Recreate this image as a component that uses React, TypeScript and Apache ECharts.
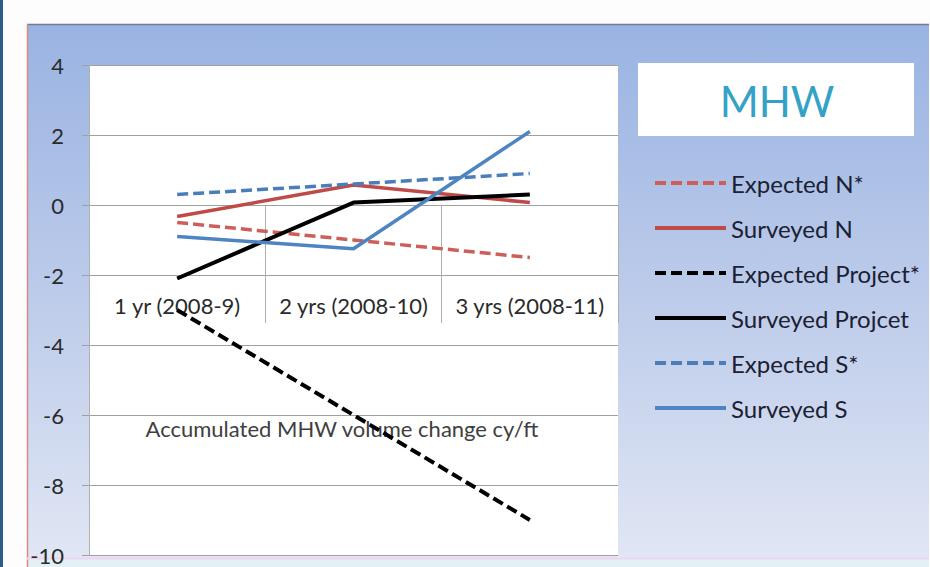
import React, { useEffect, useRef } from "react";
import * as echarts from "echarts";

// Survey periods along the category axis
const periods = ["1 yr (2008-9)", "2 yrs (2008-10)", "3 yrs (2008-11)"];

// Accumulated MHW volume change (cy/ft) per period
const expectedN = [-0.5, -1.0, -1.5];
const surveyedN = [-0.33, 0.57, 0.07];
const expectedProject = [-3, -6, -9];
const surveyedProject = [-2.1, 0.07, 0.3];
const expectedS = [0.3, 0.6, 0.9];
const surveyedS = [-0.9, -1.25, 2.1];

const seriesNames = [
  "Expected N*",
  "Surveyed N",
  "Expected Project*",
  "Surveyed Projcet",
  "Expected S*",
  "Surveyed S",
];

const FONT = "Lato, 'Noto Sans', sans-serif";

// plot rectangle
const PLOT = { left: 89, top: 65, width: 529, height: 490 };
const Y_MIN = -10;
const Y_MAX = 4;

export default function App() {
  const ref = useRef<HTMLDivElement>(null);

  useEffect(() => {
    document.body.style.margin = "0";
    if (!ref.current) return;
    const chart = echarts.init(ref.current, undefined, { renderer: "svg" });

    const dash = [11, 5];
    const mk = (name: string, data: number[], color: string, width: number, dashed: boolean) => ({
      name,
      type: "line",
      data,
      symbol: "none",
      lineStyle: { color, width, type: dashed ? dash : "solid", cap: "butt" },
      itemStyle: { color },
      emphasis: { disabled: true },
    });

    // category axis sits on the zero line of the value axis
    const zeroOffset = (PLOT.height * (0 - Y_MIN)) / (Y_MAX - Y_MIN);

    chart.setOption({
      animation: false,
      textStyle: { fontFamily: FONT },
      graphic: [
        // page and slide frame
        { type: "rect", z: -20, shape: { x: 0, y: 0, width: 930, height: 567 }, style: { fill: "#fdfdfd" } },
        { type: "rect", z: -19, shape: { x: 0, y: 0, width: 3, height: 567 }, style: { fill: "#2d5b8c" } },
        {
          type: "rect",
          z: -19,
          shape: { x: 27, y: 24, width: 902, height: 534 },
          style: {
            fill: new echarts.graphic.LinearGradient(0, 0, 0, 1, [
              { offset: 0, color: "#99b3e2" },
              { offset: 0.5, color: "#bccbea" },
              { offset: 1, color: "#e0e6f4" },
            ]),
          },
        },
        { type: "rect", z: -18, shape: { x: 27, y: 558, width: 902, height: 9 }, style: { fill: "#e3f0f5" } },
        { type: "line", z: -18, shape: { x1: 27, y1: 24.5, x2: 929, y2: 24.5 }, style: { stroke: "#7e7a96", lineWidth: 1.5 } },
        { type: "line", z: -18, shape: { x1: 27.5, y1: 24, x2: 27.5, y2: 567 }, style: { stroke: "#d98a86", lineWidth: 1.5 } },
        { type: "line", z: -18, shape: { x1: 27, y1: 558.5, x2: 929, y2: 558.5 }, style: { stroke: "#efd4ef", lineWidth: 2 } },
        // plot area
        {
          type: "rect",
          z: -17,
          shape: { x: PLOT.left, y: PLOT.top, width: PLOT.width, height: PLOT.height },
          style: { fill: "#ffffff" },
        },
        // title box
        { type: "rect", z: -17, shape: { x: 638, y: 63, width: 276, height: 73 }, style: { fill: "#ffffff" } },
        {
          type: "text",
          z: 5,
          x: 777,
          y: 101,
          style: {
            text: "MHW",
            fill: "#33a2c6",
            font: `42px ${FONT}`,
            align: "center",
            verticalAlign: "middle",
          },
        },
        {
          type: "text",
          z: 1,
          x: 342,
          y: 428,
          style: {
            text: "Accumulated MHW volume change cy/ft",
            fill: "#404040",
            font: `22px ${FONT}`,
            align: "center",
            verticalAlign: "middle",
          },
        },
      ],
      legend: {
        orient: "vertical",
        left: 653,
        top: 171,
        padding: 0,
        itemWidth: 71,
        itemHeight: 24,
        itemGap: 21,
        itemStyle: { opacity: 0 },
        lineStyle: { width: 4 },
        textStyle: { fontSize: 24, color: "#1b2033", fontFamily: FONT, lineHeight: 24 },
        data: seriesNames,
      },
      grid: {
        left: PLOT.left,
        top: PLOT.top,
        width: PLOT.width,
        height: PLOT.height,
        containLabel: false,
        outerBoundsMode: "none",
      },
      xAxis: {
        type: "category",
        data: periods,
        boundaryGap: true,
        position: "bottom",
        offset: -zeroOffset,
        axisLine: { show: false, onZero: false },
        axisTick: { show: true, interval: 0, length: 118, lineStyle: { color: "#b0b0b0", width: 1 } },
        axisLabel: { interval: 0, fontSize: 22, color: "#2a2a2a", margin: 89, fontFamily: FONT },
        splitLine: { show: false },
      },
      yAxis: {
        type: "value",
        min: Y_MIN,
        max: Y_MAX,
        interval: 2,
        axisLine: { show: true, lineStyle: { color: "#b0b0b0", width: 1 } },
        axisTick: { show: true, length: 7, lineStyle: { color: "#a0a0a0" } },
        axisLabel: { fontSize: 22, color: "#2a2a2a", margin: 25, fontFamily: FONT },
        splitLine: { show: true, lineStyle: { color: "#a0a0a0", width: 1 } },
      },
      series: [
        mk(seriesNames[0], expectedN, "#cd5f5b", 3.5, true),
        mk(seriesNames[1], surveyedN, "#bf4b48", 3.5, false),
        mk(seriesNames[2], expectedProject, "#000000", 4, true),
        mk(seriesNames[3], surveyedProject, "#000000", 4, false),
        mk(seriesNames[4], expectedS, "#4a7ebb", 3.5, true),
        mk(seriesNames[5], surveyedS, "#4f84c2", 3.5, false),
      ],
    });

    return () => chart.dispose();
  }, []);

  return <div ref={ref} style={{ width: 930, height: 567 }} />;
}
